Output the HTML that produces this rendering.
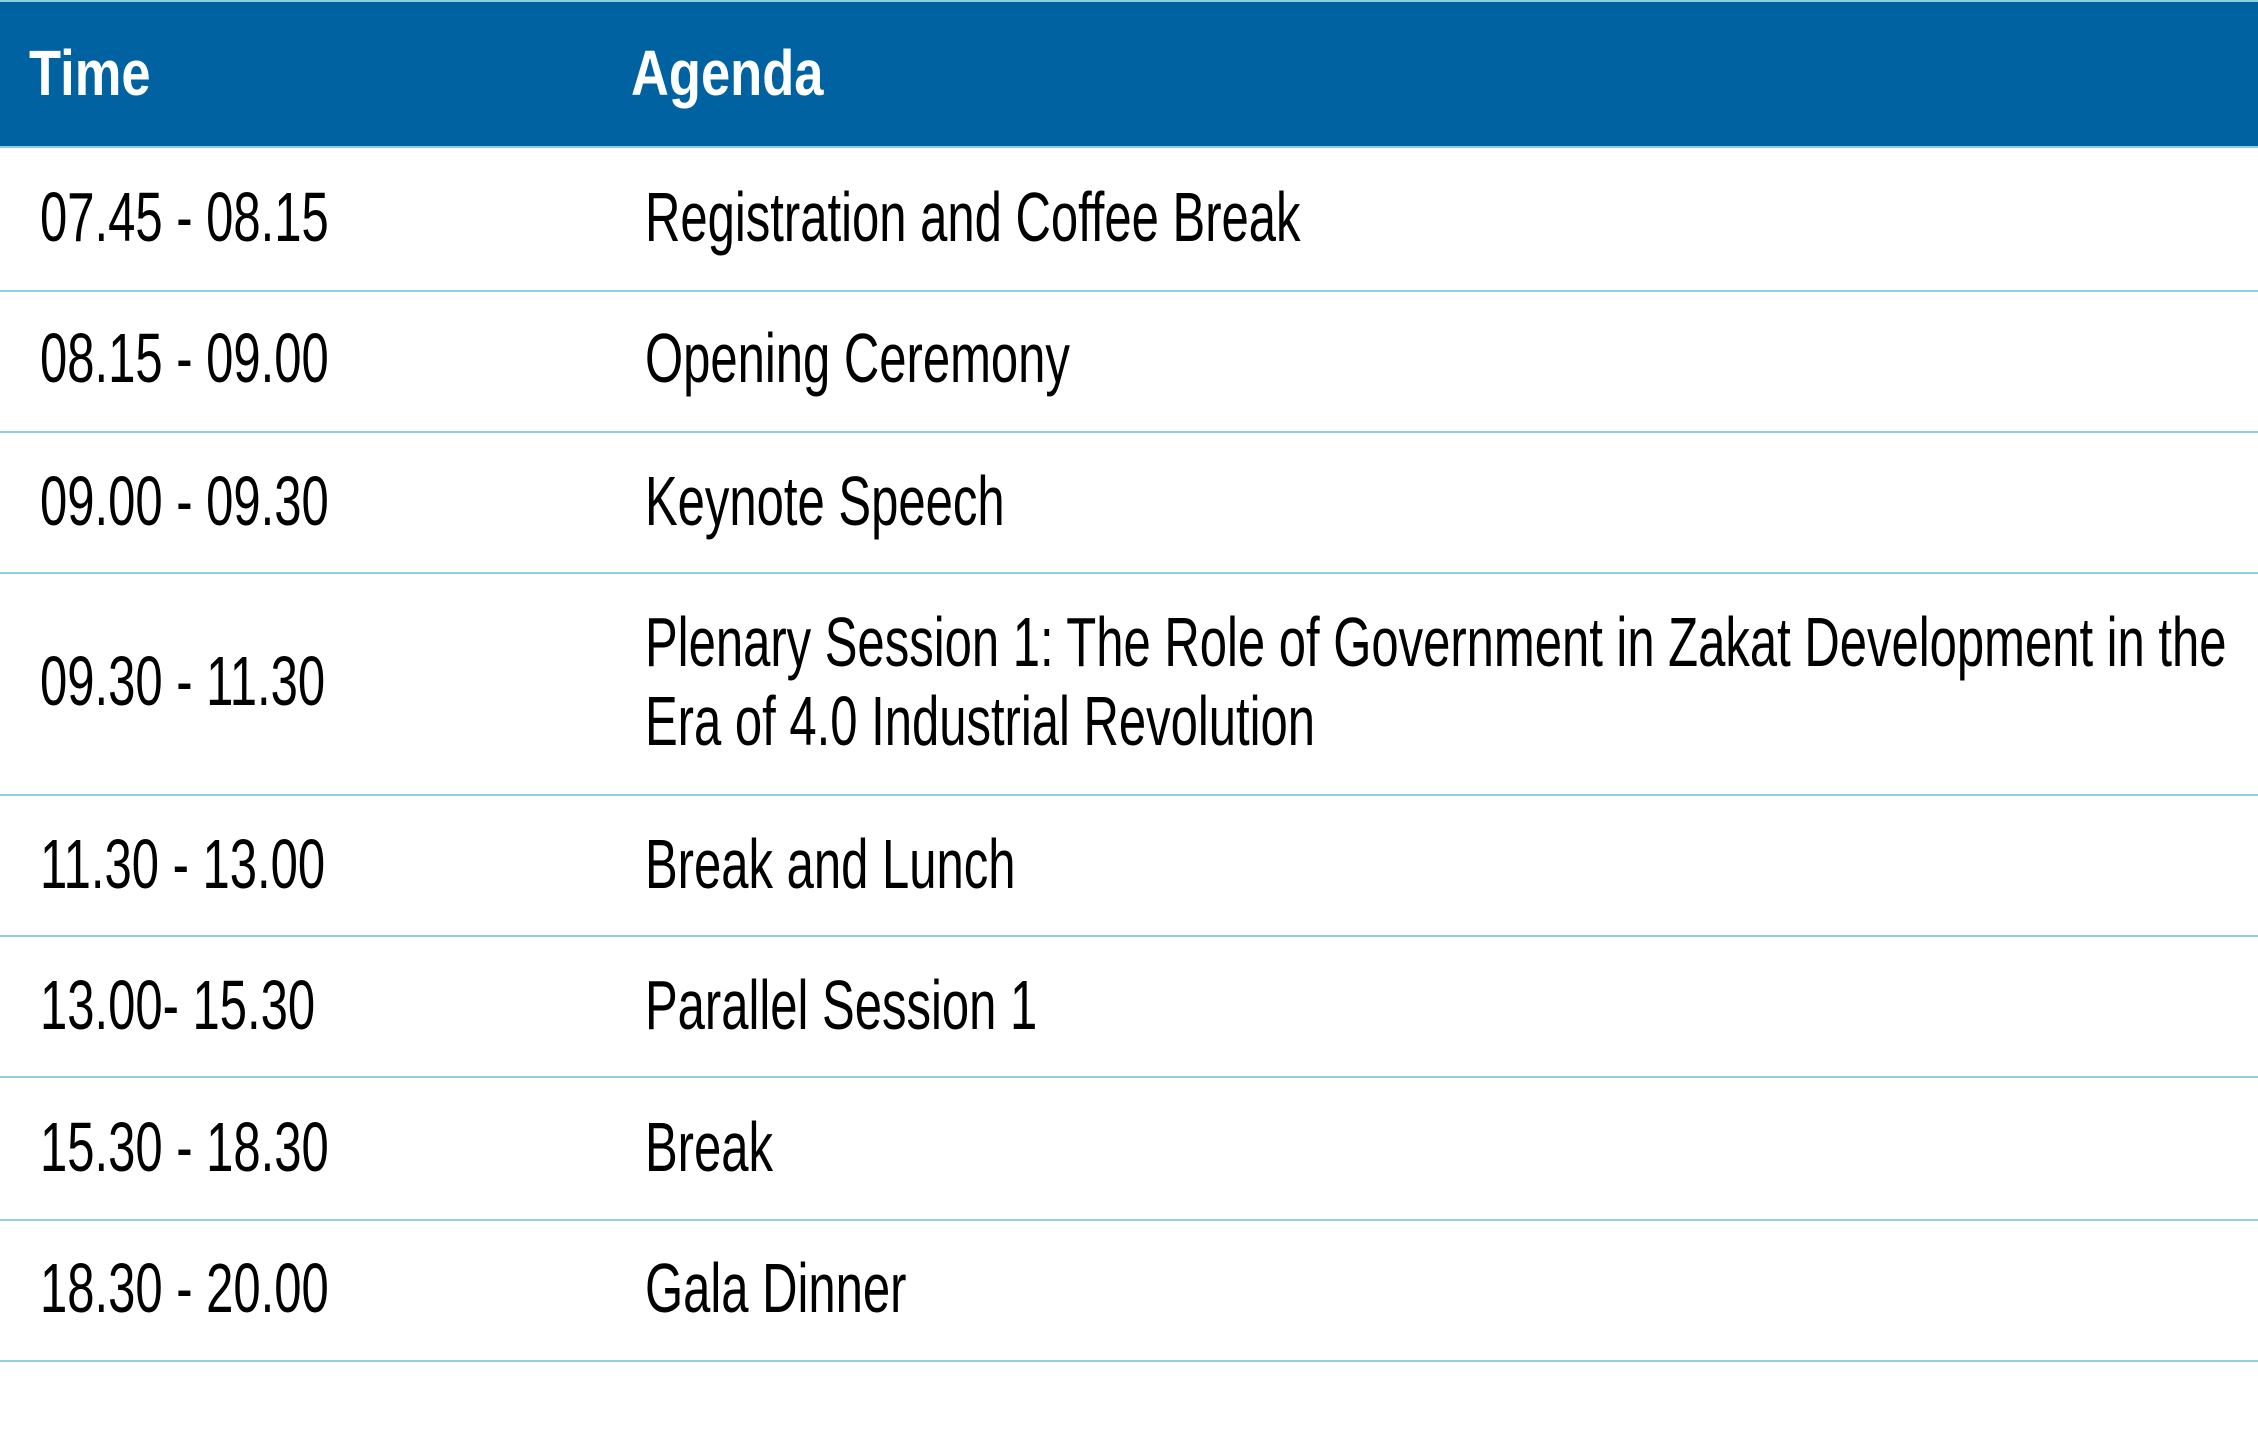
<!DOCTYPE html>
<html><head><meta charset="utf-8"><style>
html,body{margin:0;padding:0;background:#fff;}
body{width:2258px;height:1437px;position:relative;overflow:hidden;font-family:"Liberation Sans",Arial,sans-serif;}
.hdr{position:absolute;left:0;top:0;width:2258px;height:147px;background:#0062a0;border-top:2px solid #8fcfe0;box-sizing:border-box;}
.h{position:absolute;color:#fff;font-weight:bold;font-size:64px;line-height:64px;white-space:nowrap;transform:scaleX(0.82);transform-origin:left top;}
.t{position:absolute;color:#000;font-size:70px;line-height:70px;white-space:nowrap;transform:scaleX(0.7);transform-origin:left top;}
.l{position:absolute;left:0;width:2258px;height:2px;background:#8fcfe0;}
</style></head><body>
<div class="hdr"></div>
<div class="l" style="top:146px"></div>
<div class="h" style="left:29px;top:41px">Time</div>
<div class="h" style="left:631px;top:41px">Agenda</div>

<div class="t" style="left:40px;top:182px">07.45 - 08.15</div>
<div class="t" style="left:645px;top:182px">Registration and Coffee Break</div>
<div class="l" style="top:290px"></div>

<div class="t" style="left:40px;top:323px">08.15 - 09.00</div>
<div class="t" style="left:645px;top:323px">Opening Ceremony</div>
<div class="l" style="top:431px"></div>

<div class="t" style="left:40px;top:466px">09.00 - 09.30</div>
<div class="t" style="left:645px;top:466px">Keynote Speech</div>
<div class="l" style="top:572px"></div>

<div class="t" style="left:40px;top:646px">09.30 - 11.30</div>
<div class="t" style="left:645px;top:607px">Plenary Session 1: The Role of Government in Zakat Development in the</div>
<div class="t" style="left:645px;top:686px">Era of 4.0 Industrial Revolution</div>
<div class="l" style="top:794px"></div>

<div class="t" style="left:40px;top:829px">11.30 - 13.00</div>
<div class="t" style="left:645px;top:829px">Break and Lunch</div>
<div class="l" style="top:935px"></div>

<div class="t" style="left:40px;top:970px">13.00- 15.30</div>
<div class="t" style="left:645px;top:970px">Parallel Session 1</div>
<div class="l" style="top:1076px"></div>

<div class="t" style="left:40px;top:1112px">15.30 - 18.30</div>
<div class="t" style="left:645px;top:1112px">Break</div>
<div class="l" style="top:1219px"></div>

<div class="t" style="left:40px;top:1253px">18.30 - 20.00</div>
<div class="t" style="left:645px;top:1253px">Gala Dinner</div>
<div class="l" style="top:1360px"></div>
</body></html>
